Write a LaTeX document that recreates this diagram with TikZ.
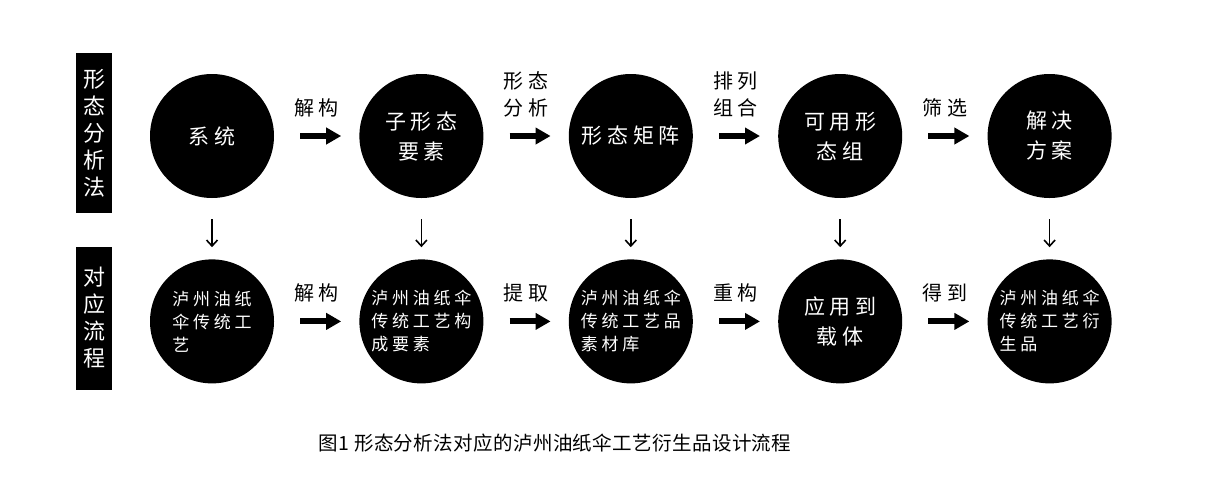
\documentclass[tikz,border=0pt]{standalone}
\usepackage{fontspec}
\setmainfont{Noto Sans CJK SC}
\newfontfamily\cjk[LetterSpace=22]{Noto Sans CJK SC}
\newfontfamily\capfont[LetterSpace=2]{Noto Sans CJK SC}
\usetikzlibrary{
        arrows.meta,
        positioning
    }
\tikzset{x=1pt,y=-1pt,auto,node distance=85pt}
\tikzset{
    blob/.style={circle,fill=black,text=white,minimum size=124pt,inner sep=0pt,
        align=center,font=\cjk\fontsize{21}{30}\selectfont},
    smallblob/.style={blob,align=left,font=\cjk\fontsize{17}{23}\selectfont},
    sidebox/.style={fill=black,text=white,minimum width=36pt,inner sep=0pt,
        align=center,font=\fontsize{22}{27}\selectfont},
    lbl/.style={align=center,inner sep=3pt,yshift=13pt,font=\cjk\fontsize{20}{27}\selectfont},
    bigarrow/.style={-{Triangle[length=15pt,width=16pt]},line width=6pt,
        shorten <=26pt,shorten >=18pt},
    downarrow/.style={-{Straight Barb[length=6pt,width=11pt]},line width=1.6pt,
        shorten <=21pt,shorten >=12pt}
}

\begin{document}
\begin{tikzpicture}
                \useasboundingbox (0,0) rectangle (1209,477);
                \node[sidebox,minimum height=160pt] (m) at (94,133) {形\\态\\分\\析\\法};
                \node[sidebox,minimum height=143pt] (f) at (94,318) {对\\应\\流\\程};
                % top row
                \node[blob] (a1) at (212,136) {系统};
                \node[blob] (a2) [right=of a1] {子形态\\要素};
                \node[blob] (a3) [right=of a2] {形态矩阵};
                \node[blob] (a4) [right=of a3] {可用形\\态组};
                \node[blob] (a5) [right=of a4] {解决\\方案};
                % bottom row
                \node[smallblob] (b1) [below=61pt of a1] {泸州油纸\\伞传统工\\艺};
                \node[smallblob] (b2) [below=61pt of a2] {泸州油纸伞\\传统工艺构\\成要素};
                \node[smallblob] (b3) [below=61pt of a3] {泸州油纸伞\\传统工艺品\\素材库};
                \node[blob] (b4) [below=61pt of a4] {应用到\\载体};
                \node[smallblob] (b5) [below=61pt of a5] {泸州油纸伞\\传统工艺衍\\生品};
                \path
                    (a1) edge[bigarrow] node[lbl] {解构} (a2)
                    (a2) edge[bigarrow] node[lbl] {形态\\分析} (a3)
                    (a3) edge[bigarrow] node[lbl] {排列\\组合} (a4)
                    (a4) edge[bigarrow] node[lbl] {筛选} (a5)
                    (b1) edge[bigarrow] node[lbl] {解构} (b2)
                    (b2) edge[bigarrow] node[lbl] {提取} (b3)
                    (b3) edge[bigarrow] node[lbl] {重构} (b4)
                    (b4) edge[bigarrow] node[lbl] {得到} (b5);
                \foreach \i in {1,...,5}
                    \draw[downarrow] (a\i) -- (b\i);
                \node[font=\capfont\fontsize{19.5}{24}\selectfont] (cap) at (555,443) {图1 形态分析法对应的泸州油纸伞工艺衍生品设计流程};
\end{tikzpicture}
\end{document}
